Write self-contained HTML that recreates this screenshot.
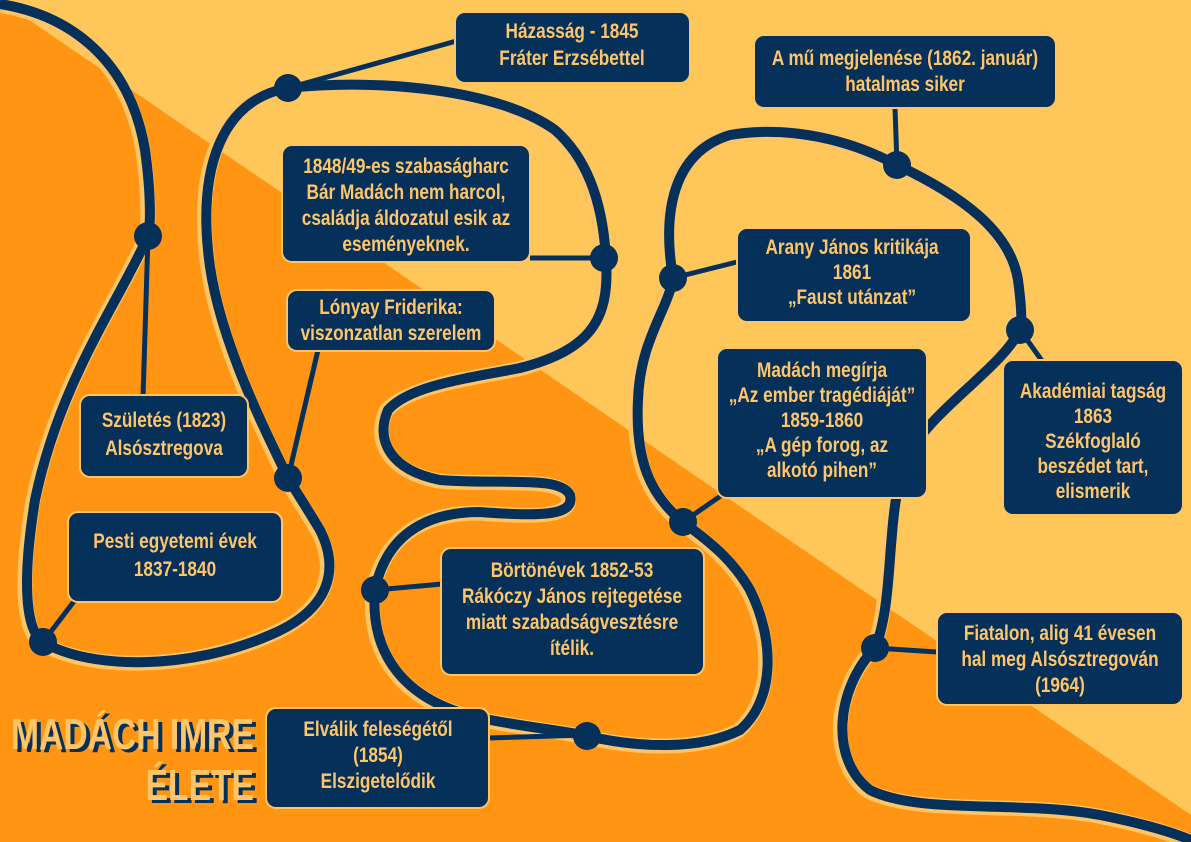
<!DOCTYPE html>
<html><head><meta charset="utf-8"><style>
html,body{margin:0;padding:0;width:1191px;height:842px;overflow:hidden;background:#FF9512}
svg{display:block}
text{font-family:"Liberation Sans",sans-serif;font-weight:bold;fill:#FFC568;font-size:21px;text-anchor:middle;transform-box:fill-box;transform-origin:center;transform:scaleX(0.82)}
.t{font-size:44px;fill:#FFC568;text-anchor:end;transform:none}
.ts{font-size:44px;fill:#05305A;text-anchor:end;transform:none}
</style></head><body>
<svg width="1191" height="842" viewBox="0 0 1191 842">
<polygon points="0,0 1191,0 1191,815" fill="#FFC65A"/>
<g fill="none" stroke-linecap="round" stroke-linejoin="round">
<path d="M0,4 C70,15 130,60 145,150 C152,200 150,230 148,236 C120,300 60,380 35,500 C22,580 25,630 43,642 C90,670 190,670 270,635 C330,610 340,570 320,530 C305,505 295,490 288,478 C260,420 215,330 208,250 C200,170 220,100 288,88 C380,78 500,90 555,130 C595,165 604,220 606,260 C610,320 590,350 520,368 C470,378 410,385 388,410 C375,440 390,470 440,480 C500,485 560,475 570,495 C575,515 545,517 480,512 C420,512 385,540 375,590 C370,650 400,700 480,718 C530,728 560,730 587,736 C640,748 700,750 740,730 C775,700 775,640 750,590 C730,555 700,535 683,522 C650,495 635,460 638,400 C640,340 668,310 673,278 C660,200 680,150 730,135 C790,125 850,140 897,165 C960,195 1010,230 1018,280 C1022,310 1022,325 1020,330 C1000,370 930,410 905,460 C885,520 895,600 875,648 C835,690 830,760 870,790 C920,815 1020,800 1100,815 C1150,825 1180,835 1195,842"
 stroke="#FFC466" stroke-width="15" transform="translate(-2,1)"/>
<path d="M0,4 C70,15 130,60 145,150 C152,200 150,230 148,236 C120,300 60,380 35,500 C22,580 25,630 43,642 C90,670 190,670 270,635 C330,610 340,570 320,530 C305,505 295,490 288,478 C260,420 215,330 208,250 C200,170 220,100 288,88 C380,78 500,90 555,130 C595,165 604,220 606,260 C610,320 590,350 520,368 C470,378 410,385 388,410 C375,440 390,470 440,480 C500,485 560,475 570,495 C575,515 545,517 480,512 C420,512 385,540 375,590 C370,650 400,700 480,718 C530,728 560,730 587,736 C640,748 700,750 740,730 C775,700 775,640 750,590 C730,555 700,535 683,522 C650,495 635,460 638,400 C640,340 668,310 673,278 C660,200 680,150 730,135 C790,125 850,140 897,165 C960,195 1010,230 1018,280 C1022,310 1022,325 1020,330 C1000,370 930,410 905,460 C885,520 895,600 875,648 C835,690 830,760 870,790 C920,815 1020,800 1100,815 C1150,825 1180,835 1195,842"
 stroke="#05305A" stroke-width="10"/>
</g>
<g stroke="#05305A" stroke-width="5" fill="none">
<line x1="288" y1="88" x2="460" y2="40"/>
<line x1="530" y1="258" x2="604" y2="258"/>
<line x1="318" y1="350" x2="288" y2="478"/>
<line x1="143" y1="398" x2="148" y2="236"/>
<line x1="75" y1="600" x2="43" y2="642"/>
<line x1="442" y1="584" x2="375" y2="590"/>
<line x1="488" y1="738" x2="587" y2="735"/>
<line x1="895" y1="108" x2="897" y2="165"/>
<line x1="737" y1="262" x2="673" y2="278"/>
<line x1="722" y1="495" x2="683" y2="522"/>
<line x1="1050" y1="372" x2="1020" y2="330"/>
<line x1="937" y1="652" x2="875" y2="648"/>
</g>
<g fill="#05305A">
<circle cx="148" cy="236" r="14"/><circle cx="43" cy="642" r="14"/><circle cx="288" cy="478" r="14"/>
<circle cx="288" cy="88" r="14"/><circle cx="604" cy="258" r="14"/><circle cx="375" cy="590" r="14"/>
<circle cx="587" cy="736" r="14"/><circle cx="683" cy="522" r="14"/><circle cx="673" cy="278" r="14"/>
<circle cx="897" cy="165" r="14"/><circle cx="1020" cy="330" r="14"/><circle cx="875" cy="648" r="14"/>
</g>
<g fill="#05305A" stroke="#FFC466" stroke-width="2">
<rect x="455" y="12" width="235" height="71" rx="10"/>
<rect x="282" y="145" width="248" height="117" rx="10"/>
<rect x="287" y="290" width="208" height="61" rx="10"/>
<rect x="80" y="395" width="168" height="82" rx="10"/>
<rect x="68" y="512" width="214" height="90" rx="10"/>
<rect x="441" y="548" width="263" height="127" rx="10"/>
<rect x="266" y="708" width="223" height="100" rx="10"/>
<rect x="754" y="35" width="302" height="73" rx="10"/>
<rect x="737" y="228" width="234" height="94" rx="10"/>
<rect x="717" y="348" width="210" height="150" rx="10"/>
<rect x="1003" y="360" width="180" height="155" rx="10"/>
<rect x="937" y="612" width="246" height="93" rx="10"/>
</g>
<text x="572" y="38">Házasság - 1845</text><text x="572" y="65">Fráter Erzsébettel</text>
<text x="406" y="173">1848/49-es szabaságharc</text><text x="406" y="199">Bár Madách nem harcol,</text><text x="406" y="225">családja áldozatul esik az</text><text x="406" y="251">eseményeknek.</text>
<text x="391" y="314">Lónyay Friderika:</text><text x="391" y="340">viszonzatlan szerelem</text>
<text x="164" y="427">Születés (1823)</text><text x="164" y="455">Alsósztregova</text>
<text x="175" y="548">Pesti egyetemi évek</text><text x="175" y="576">1837-1840</text>
<text x="572" y="577">Börtönévek 1852-53</text><text x="572" y="603">Rákóczy János rejtegetése</text><text x="572" y="629">miatt szabadságvesztésre</text><text x="572" y="655">ítélik.</text>
<text x="378" y="736">Elválik feleségétől</text><text x="378" y="762">(1854)</text><text x="378" y="788">Elszigetelődik</text>
<text x="905" y="65">A mű megjelenése (1862. január)</text><text x="905" y="91">hatalmas siker</text>
<text x="852" y="254">Arany János kritikája</text><text x="852" y="279">1861</text><text x="852" y="304">„Faust utánzat”</text>
<text x="822" y="377">Madách megírja</text><text x="822" y="402">„Az ember tragédiáját”</text><text x="822" y="427">1859-1860</text><text x="822" y="452">„A gép forog, az</text><text x="822" y="477">alkotó pihen”</text>
<text x="1093" y="398">Akadémiai tagság</text><text x="1093" y="423">1863</text><text x="1093" y="448">Székfoglaló</text><text x="1093" y="473">beszédet tart,</text><text x="1093" y="498">elismerik</text>
<text x="1060" y="640">Fiatalon, alig 41 évesen</text><text x="1060" y="666">hal meg Alsósztregován</text><text x="1060" y="692">(1964)</text>
<g transform="translate(258,752) scale(0.765,1)"><text class="ts" x="0" y="0">MADÁCH IMRE</text></g>
<g transform="translate(254,749) scale(0.765,1)"><text class="t" x="0" y="0">MADÁCH IMRE</text></g>
<g transform="translate(258,803) scale(0.765,1)"><text class="ts" x="0" y="0">ÉLETE</text></g>
<g transform="translate(254,800) scale(0.765,1)"><text class="t" x="0" y="0">ÉLETE</text></g>
</svg>
</body></html>
